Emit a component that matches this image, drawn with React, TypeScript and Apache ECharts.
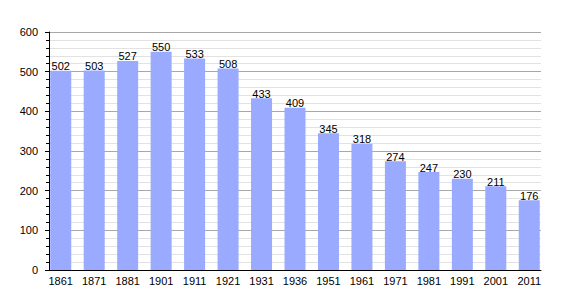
import React, { useEffect, useRef } from "react";
import * as echarts from "echarts";

const years = ["1861", "1871", "1881", "1901", "1911", "1921", "1931", "1936", "1951", "1961", "1971", "1981", "1991", "2001", "2011"];
const population = [502, 503, 527, 550, 533, 508, 433, 409, 345, 318, 274, 247, 230, 211, 176];
const yTicks = { min: 0, max: 600, interval: 100 };

const font = "Liberation Sans, Arial, sans-serif";

export default function App() {
  const ref = useRef<HTMLDivElement>(null);
  useEffect(() => {
    const chart = echarts.init(ref.current!, null, { renderer: "svg" });
    chart.setOption({
      animation: false,
      grid: [
        { left: 49, right: 29, top: 32, bottom: 30 },
        { left: 44, right: 24, top: 32, bottom: 30 },
      ],
      xAxis: [
        {
          gridIndex: 0,
          type: "category",
          data: years,
          axisLine: { lineStyle: { color: "#000", width: 1 } },
          axisTick: { show: false },
          axisLabel: { show: false },
          z: 5,
        },
        {
          gridIndex: 1,
          type: "category",
          data: years,
          axisLine: { show: false },
          axisTick: { show: false },
          axisLabel: { color: "#000", fontSize: 11, fontFamily: font, margin: 5 },
        },
      ],
      yAxis: [
        {
          gridIndex: 0,
          type: "value",
          min: yTicks.min,
          max: yTicks.max,
          interval: yTicks.interval,
          axisLine: { show: true, lineStyle: { color: "#000", width: 1 } },
          axisTick: { show: true, length: 4, lineStyle: { color: "#000" } },
          minorTick: { show: true, splitNumber: 5, length: 3, lineStyle: { color: "#000" } },
          axisLabel: { color: "#000", fontSize: 11, fontFamily: font, margin: 11 },
          splitLine: { show: true, lineStyle: { color: "#a8a8a8", width: 1 } },
          minorSplitLine: { show: true, lineStyle: { color: "#e2e2e2", width: 1 } },
        },
        {
          gridIndex: 1,
          type: "value",
          min: yTicks.min,
          max: yTicks.max,
          interval: yTicks.interval,
          show: false,
          splitLine: { show: false },
        },
      ],
      series: [
        {
          type: "bar",
          xAxisIndex: 1,
          yAxisIndex: 1,
          data: population,
          barWidth: 21,
          z: 3,
          itemStyle: { color: "#99aaff" },
          label: {
            show: true,
            position: "top",
            distance: -1,
            color: "#000",
            fontSize: 11,
            fontFamily: font,
          },
        },
      ],
    });
    return () => chart.dispose();
  }, []);
  return <div ref={ref} style={{ width: 570, height: 300, position: "absolute", left: 0, top: 0 }} />;
}
